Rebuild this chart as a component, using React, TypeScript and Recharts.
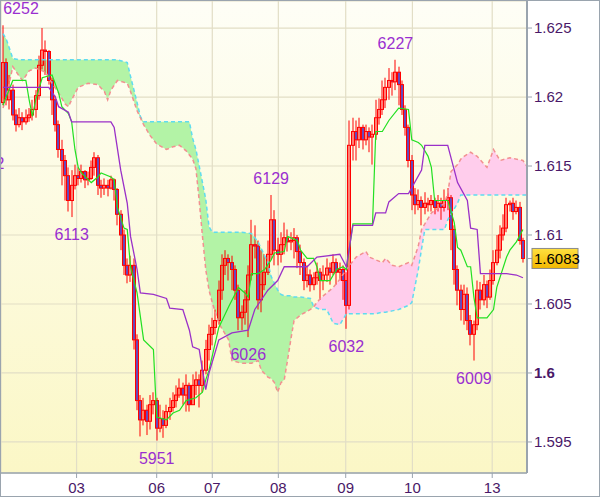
import React from 'react'
import { ComposedChart, Bar, Line, Area, Scatter, XAxis, YAxis, CartesianGrid, ReferenceLine } from 'recharts'

// prices in pips: 6083 -> 1.6083
const firstOpen = 6196
const closes = [
  6225, 6198, 6205, 6187, 6180, 6185, 6182, 6185, 6187, 6191,
  6201, 6223, 6234, 6233, 6212, 6198, 6180, 6162, 6154, 6143,
  6125, 6136, 6143, 6141, 6146, 6140, 6141, 6149, 6156, 6136,
  6134, 6136, 6134, 6140, 6133, 6115, 6100, 6078, 6071, 6078,
  6024, 5980, 5966, 5973, 5965, 5977, 5980, 5960, 5967, 5962,
  5972, 5975, 5980, 5984, 5989, 5984, 5991, 5977, 5991, 5995,
  5991, 6002, 6017, 6028, 6033, 6038, 6060, 6078, 6083, 6080,
  6075, 6060, 6040, 6044, 6053, 6071, 6093, 6092, 6053, 6064,
  6073, 6086, 6111, 6089, 6086, 6093, 6098, 6095, 6096, 6098,
  6088, 6080, 6067, 6071, 6064, 6069, 6073, 6067, 6071, 6076,
  6073, 6080, 6073, 6075, 6067, 6049, 6165, 6175, 6169, 6178,
  6169, 6175, 6171, 6173, 6185, 6191, 6198, 6207, 6212, 6211,
  6218, 6209, 6191, 6178, 6154, 6129, 6122, 6125, 6120, 6123,
  6122, 6125, 6120, 6123, 6120, 6125, 6127, 6104, 6075, 6060,
  6046, 6057, 6038, 6028, 6035, 6060, 6053, 6064, 6055, 6067,
  6080, 6089, 6100, 6105, 6122, 6123, 6117, 6120, 6096, 6083,
]
const highs = [
  6252, 6228, 6216, 6209, 6191, 6192, 6189, 6191, 6192, 6198,
  6205, 6230, 6250, 6241, 6234, 6214, 6201, 6183, 6169, 6158,
  6149, 6147, 6151, 6149, 6151, 6147, 6146, 6154, 6160, 6158,
  6140, 6141, 6140, 6143, 6141, 6134, 6118, 6104, 6083, 6085,
  6083, 6028, 5984, 5982, 5977, 5984, 5986, 5982, 5977, 5973,
  5977, 5982, 5986, 5991, 5996, 5993, 5999, 5993, 5999, 6001,
  5999, 6009, 6024, 6035, 6040, 6046, 6067, 6086, 6089, 6086,
  6085, 6078, 6064, 6049, 6060, 6078, 6111, 6107, 6096, 6089,
  6086, 6096, 6129, 6118, 6098, 6102, 6109, 6104, 6102, 6105,
  6100, 6093, 6083, 6078, 6075, 6073, 6080, 6076, 6078, 6083,
  6080, 6086, 6083, 6080, 6078, 6073, 6183, 6185, 6183, 6185,
  6180, 6180, 6178, 6180, 6198, 6199, 6212, 6214, 6221, 6218,
  6227, 6222, 6212, 6194, 6180, 6158, 6134, 6133, 6128, 6131,
  6127, 6129, 6127, 6129, 6127, 6133, 6134, 6129, 6107, 6078,
  6064, 6064, 6062, 6042, 6038, 6067, 6066, 6071, 6067, 6075,
  6089, 6100, 6107, 6115, 6127, 6125, 6127, 6125, 6124, 6098,
]
const lows = [
  6194, 6194, 6191, 6183, 6175, 6178, 6176, 6180, 6182, 6183,
  6185, 6198, 6220, 6216, 6209, 6187, 6175, 6156, 6136, 6125,
  6117, 6113, 6133, 6136, 6138, 6134, 6136, 6140, 6143, 6129,
  6127, 6129, 6128, 6133, 6125, 6107, 6089, 6071, 6065, 6066,
  6017, 5973, 5954, 5962, 5955, 5959, 5970, 5951, 5957, 5953,
  5960, 5966, 5972, 5975, 5982, 5977, 5972, 5972, 5977, 5984,
  5975, 5986, 5999, 6009, 6020, 6028, 6035, 6053, 6071, 6067,
  6060, 6053, 6031, 6031, 6035, 6026, 6067, 6083, 6046, 6044,
  6060, 6071, 6082, 6078, 6078, 6080, 6086, 6088, 6089, 6083,
  6076, 6071, 6060, 6062, 6059, 6060, 6064, 6053, 6060, 6066,
  6064, 6071, 6064, 6067, 6053, 6032, 6046, 6154, 6154, 6163,
  6162, 6165, 6160, 6151, 6169, 6180, 6187, 6192, 6198, 6201,
  6205, 6194, 6187, 6172, 6149, 6118, 6115, 6118, 6107, 6115,
  6117, 6117, 6115, 6117, 6111, 6117, 6118, 6089, 6064, 6049,
  6038, 6035, 6031, 6020, 6009, 6031, 6046, 6049, 6047, 6053,
  6064, 6078, 6083, 6096, 6102, 6117, 6111, 6115, 6093, 6080,
]

// [bar, value]
const tenkan = [
  [0, 6194], [3, 6212], [7, 6212], [8, 6198], [9, 6186], [10, 6198], [12, 6214], [15, 6216], [17, 6203], [18, 6193],
  [20, 6188], [21, 6182], [22, 6162], [23, 6149], [24, 6145], [27, 6138], [29, 6142], [30, 6145], [33, 6142], [34, 6140],
  [35, 6120], [37, 6105], [38, 6104], [39, 6077], [41, 6058], [43, 6024], [46, 6017], [47, 5968], [50, 5966], [52, 5971],
  [54, 5973], [56, 5980], [59, 5982], [61, 5986], [62, 5995], [63, 6002], [66, 6033], [69, 6048], [72, 6062], [74, 6058],
  [75, 6055], [76, 6072], [78, 6072], [80, 6075], [82, 6082], [83, 6087], [86, 6088], [87, 6099], [90, 6096], [91, 6089],
  [93, 6083], [95, 6083], [96, 6077], [97, 6067], [100, 6067], [102, 6075], [104, 6077], [105, 6075], [107, 6108], [113, 6108],
  [114, 6175], [116, 6175], [118, 6183], [121, 6192], [124, 6191], [125, 6169], [127, 6167], [128, 6165], [130, 6157], [131, 6149],
  [132, 6125], [136, 6125], [138, 6109], [139, 6091], [140, 6089], [142, 6077], [143, 6077], [144, 6055], [145, 6040], [148, 6040],
  [150, 6046], [151, 6062], [154, 6084], [155, 6089], [157, 6095], [159, 6104],
]
const kijun = [
  [0, 6207], [14, 6207], [16, 6200], [17, 6193], [20, 6189], [21, 6182], [33, 6182], [34, 6178], [36, 6147], [38, 6123],
  [39, 6099], [41, 6075], [42, 6058], [46, 6057], [50, 6054], [51, 6047], [55, 6046], [57, 6031], [58, 6019], [60, 6017],
  [61, 6002], [62, 5988], [63, 6000], [66, 6024], [70, 6029], [75, 6031], [77, 6046], [81, 6060], [84, 6067], [86, 6077],
  [93, 6077], [96, 6084], [103, 6086], [105, 6077], [107, 6107], [113, 6107], [114, 6116], [117, 6116], [118, 6124], [121, 6130],
  [124, 6130], [128, 6147], [129, 6165], [136, 6165], [138, 6147], [139, 6138], [142, 6125], [143, 6105], [145, 6104], [146, 6072],
  [154, 6072], [157, 6071], [159, 6069],
]

const cloudIdx = [
  0, 1, 3, 5, 6, 8, 10, 13, 15, 17, 19, 20, 21, 23, 26, 29, 31, 32, 33, 35,
  38, 39, 41, 42, 43, 45, 47, 50, 52, 54, 56, 57, 58, 59, 60, 61, 62, 63, 64, 66,
  69, 70, 73, 76, 78, 79, 81, 82, 83, 84, 85, 86, 87, 88, 89, 91, 94, 95, 97, 99,
  101, 103, 105, 108, 111, 112, 114, 116, 117, 119, 121, 124, 125, 127, 128, 129, 131, 135, 136, 137,
  139, 140, 141, 143, 145, 148, 150, 152, 155, 159, 161,
]
const senkouA = [
  6246, 6242, 6228, 6227, 6227, 6227, 6227, 6227, 6227, 6227, 6227, 6227, 6227, 6227, 6227, 6227, 6227, 6227, 6227, 6227,
  6225, 6215, 6196, 6186, 6182, 6182, 6182, 6182, 6182, 6182, 6182, 6182, 6170, 6162, 6150, 6138, 6126, 6106, 6102, 6102,
  6102, 6102, 6102, 6101, 6095, 6090, 6080, 6070, 6065, 6060, 6057, 6056, 6056, 6056, 6055, 6055, 6054, 6048, 6046, 6046,
  6036, 6035, 6043, 6043, 6043, 6043, 6043, 6044, 6044, 6045, 6046, 6049, 6051, 6075, 6090, 6104, 6104, 6104, 6111, 6115,
  6123, 6129, 6129, 6129, 6129, 6129, 6129, 6129, 6129, 6129, 6129,
]
const senkouB = [
  6192, 6200, 6222, 6215, 6212, 6219, 6221, 6218, 6210, 6203, 6195, 6193, 6198, 6207, 6210, 6209, 6204, 6198, 6205, 6212,
  6210, 6204, 6190, 6185, 6180, 6172, 6166, 6162, 6164, 6165, 6161, 6158, 6155, 6148, 6125, 6099, 6075, 6060, 6051, 6036,
  6024, 6009, 6007, 6007, 6009, 6002, 5997, 5996, 5993, 5986, 5993, 5995, 6009, 6024, 6038, 6042, 6046, 6048, 6054, 6058,
  6062, 6068, 6075, 6084, 6088, 6084, 6082, 6080, 6083, 6078, 6077, 6080, 6078, 6092, 6104, 6108, 6116, 6123, 6130, 6146,
  6151, 6155, 6157, 6160, 6157, 6149, 6162, 6154, 6156, 6154, 6147,
]

const dayTicks = [22.5, 47, 64, 84.2, 104.8, 125.2, 149.6]
const dayLabels = ['03', '06', '07', '08', '09', '10', '13']
const priceTicks = [5950, 6000, 6050, 6100, 6150, 6200, 6250]

// [text, bar, value, side]
const peakLabels: [string, number, number, string][] = [
  ['6142', -5, 6140, 'up'],
  ['6252', 0, 6252, 'up'],
  ['6113', 21, 6113, 'down'],
  ['5951', 47, 5951, 'down'],
  ['6026', 75, 6026, 'down'],
  ['6129', 82, 6129, 'up'],
  ['6032', 105, 6032, 'down'],
  ['6227', 120, 6227, 'up'],
  ['6009', 144, 6009, 'down'],
]

const candles = closes.map((c, i) => ({
  i,
  open: i === 0 ? firstOpen : closes[i - 1],
  close: c,
  high: highs[i],
  low: lows[i],
  range: [lows[i], highs[i]],
}))
const cloud = cloudIdx.map((i, k) => {
  const a = senkouA[k]
  const b = senkouB[k]
  return { i, a, b, green: a >= b ? [b, a] : null, pink: b >= a ? [a, b] : null }
})
const tenkanData = tenkan.map(([i, v]) => ({ i, v }))
const kijunData = kijun.map(([i, v]) => ({ i, v }))
const labelData = peakLabels.map(([text, i, v, side]) => ({ text, i, v, side }))

const FONT = '"Liberation Sans", Arial, sans-serif'
const AXIS = '#9aa4ae'
const fmtPrice = (v: number) => String(+(1 + v / 10000).toFixed(4))

function Candle(props: any) {
  const { x, y, width, height, payload } = props
  if (x == null || !payload) return null
  const { open, close, high, low } = payload
  const r = Math.round(x + width / 2)
  const k = high > low ? height / (high - low) : 0
  const yO = y + (high - open) * k
  const yC = y + (high - close) * k
  const top = Math.min(yO, yC)
  const h = Math.max(Math.abs(yO - yC), 1)
  return (
    <g>
      <line x1={r} x2={r} y1={y} y2={y + height} stroke="#ff0000" strokeWidth={1} />
      <rect x={r - 1.5} y={top} width={3} height={h} fill={close < open ? '#6a48b8' : 'none'} stroke="#ff0000" strokeWidth={1} />
    </g>
  )
}

function PeakLabel(props: any) {
  const { cx, cy, payload } = props
  if (cx == null || !payload) return null
  const x = payload.i >= 0 ? Math.max(cx, 20) : cx
  return (
    <text x={x} y={payload.side === 'up' ? cy - 11 : cy + 23} textAnchor="middle" fontSize={16} fontFamily={FONT} fill="#9a2fd0">
      {payload.text}
    </text>
  )
}

function YTick({ x, y, payload }: any) {
  return (
    <text x={x} y={y} dy={5} fontSize={15} fontFamily={FONT} fill="#4a1868" fontWeight={payload.value === 6000 ? 'bold' : 'normal'}>
      {fmtPrice(payload.value)}
    </text>
  )
}

function XTick({ x, y, payload }: any) {
  const k = dayTicks.indexOf(payload.value)
  return (
    <text x={x} y={y} dy={13} textAnchor="middle" fontSize={15} fontFamily={FONT} fill="#4a1868">
      {dayLabels[k]}
    </text>
  )
}

function PriceTag(props: any) {
  const vb = props.viewBox
  if (!vb) return null
  const ax = vb.x + vb.width
  const y = vb.y
  return (
    <g>
      <line x1={ax} x2={ax + 5} y1={y} y2={y} stroke={AXIS} strokeWidth={1} />
      <rect x={ax + 5} y={y - 10} width={46} height={20} fill="url(#tagFill)" stroke="#8a8a8a" strokeWidth={1} />
      <text x={ax + 7} y={y + 5.5} fontSize={15} fontFamily={FONT} fill="#000">
        {fmtPrice(closes[closes.length - 1])}
      </text>
    </g>
  )
}

export default function App() {
  return (
    <div style={{ position: 'absolute', left: 0, top: 0, width: 598, height: 495, border: `1px solid ${AXIS}`, background: '#fff' }}>
      <ComposedChart width={598} height={495} data={candles} margin={{ top: 0, right: 0, bottom: 0, left: 0 }}>
        <defs>
          <linearGradient id="plotBg" x1="0" y1="0" x2="0" y2="1">
            <stop offset="0%" stopColor="#fefef6" />
            <stop offset="100%" stopColor="#fbf7c6" />
          </linearGradient>
          <linearGradient id="tagFill" x1="0" y1="0" x2="0" y2="1">
            <stop offset="0%" stopColor="#ffe040" />
            <stop offset="100%" stopColor="#f2b800" />
          </linearGradient>
        </defs>
        <CartesianGrid fill="url(#plotBg)" stroke="#e2dec6" strokeWidth={1.2} />
        <XAxis
          dataKey="i"
          type="number"
          domain={[-0.61, 160.24]}
          allowDataOverflow
          ticks={dayTicks}
          tick={<XTick />}
          height={23}
          tickSize={5}
          tickLine={{ stroke: AXIS }}
          axisLine={{ stroke: AXIS, strokeWidth: 1.5 }}
        />
        <YAxis
          orientation="right"
          type="number"
          width={72}
          domain={[5927.5, 6269.6]}
          allowDataOverflow
          ticks={priceTicks}
          tick={<YTick />}
          tickSize={5}
          tickMargin={2}
          tickLine={{ stroke: AXIS }}
          axisLine={{ stroke: AXIS, strokeWidth: 2 }}
        />
        <Area data={cloud} dataKey="green" type="linear" stroke="none" fill="#b3f3a6" fillOpacity={1} isAnimationActive={false} />
        <Area data={cloud} dataKey="pink" type="linear" stroke="none" fill="#ffcdec" fillOpacity={1} isAnimationActive={false} />
        <Line data={cloud} dataKey="a" type="linear" stroke="#5fdcf0" strokeWidth={1.5} strokeDasharray="4 3" dot={false} isAnimationActive={false} />
        <Line data={cloud} dataKey="b" type="linear" stroke="#f29090" strokeWidth={1.5} strokeDasharray="4 3" dot={false} isAnimationActive={false} />
        <Bar dataKey="range" barSize={3} shape={<Candle />} isAnimationActive={false} />
        <Line data={tenkanData} dataKey="v" type="linear" stroke="#22e022" strokeWidth={1.2} dot={false} isAnimationActive={false} />
        <Line data={kijunData} dataKey="v" type="linear" stroke="#9a30c8" strokeWidth={1.3} dot={false} isAnimationActive={false} />
        <Scatter data={labelData} dataKey="v" shape={<PeakLabel />} isAnimationActive={false} />
        <ReferenceLine y={closes[closes.length - 1]} stroke="none" label={<PriceTag />} />
      </ComposedChart>
    </div>
  )
}
